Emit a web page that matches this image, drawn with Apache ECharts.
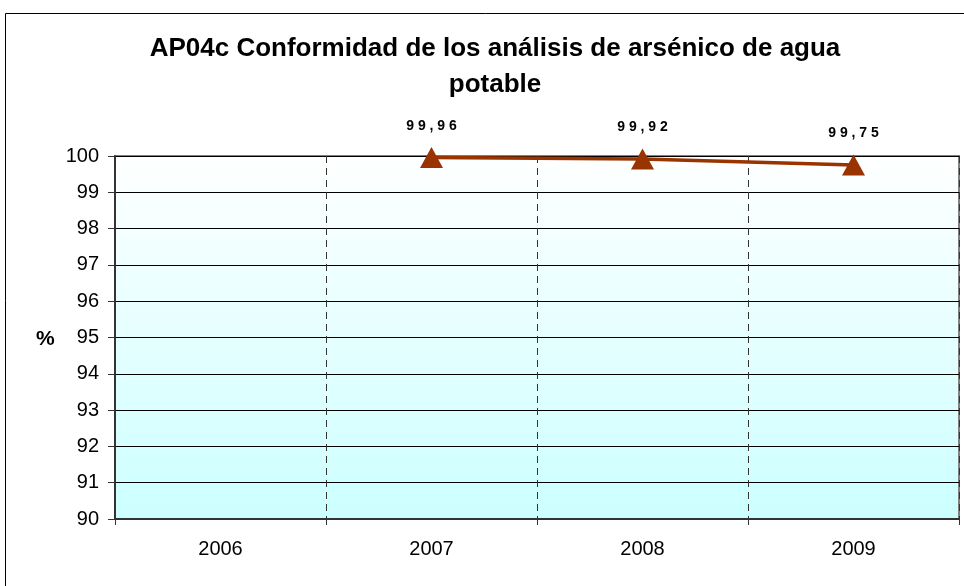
<!DOCTYPE html>
<html>
<head>
<meta charset="utf-8">
<script src="https://cdn.jsdelivr.net/npm/echarts@6/dist/echarts.min.js"></script>
<style>
  html, body { margin: 0; padding: 0; background: #fff; }
  #chart { width: 964px; height: 586px; }
</style>
</head>
<body>
<div id="chart"></div>
<script>
var years = ['2006', '2007', '2008', '2009']
var conformidad = [null, 99.96, 99.92, 99.75]
var yTicks = [90, 91, 92, 93, 94, 95, 96, 97, 98, 99, 100]

var mychart = echarts.init(document.getElementById('chart'))

var option = {
  animation: false,
  title: {
    text: 'AP04c Conformidad de los análisis de arsénico de agua\npotable',
    left: 490,
    top: 26,
    textAlign: 'center',
    textStyle: {
      fontFamily: 'Liberation Sans, Arial',
      fontSize: 26,
      fontWeight: 'bold',
      color: '#000',
      lineHeight: 36
    }
  },
  graphic: [
    {
      type: 'rect',
      shape: { x: 5.5, y: 13.5, width: 1000, height: 600 },
      style: { fill: 'none', stroke: '#000', lineWidth: 1 },
      silent: true
    },
    {
      type: 'text',
      left: 36,
      top: 329,
      style: { text: '%', font: 'bold 21px "Liberation Sans", Arial', fill: '#000' }
    }
  ],
  grid: {
    left: 115,
    right: 5,
    top: 156,
    bottom: 67,
    show: true,
    borderColor: '#808080',
    borderWidth: 2,
    backgroundColor: new echarts.graphic.LinearGradient(0, 0, 0, 1, [
      { offset: 0, color: '#ffffff' },
      { offset: 1, color: '#ccffff' }
    ])
  },
  xAxis: {
    type: 'category',
    data: years,
    boundaryGap: true,
    axisLine: { show: true, lineStyle: { color: '#333', width: 2 } },
    axisTick: { show: true, length: 6, lineStyle: { color: '#333' } },
    axisLabel: { fontFamily: 'Liberation Sans, Arial', fontSize: 20, color: '#000', margin: 20 },
    splitLine: { show: true, lineStyle: { color: '#333', type: [7, 5], width: 1 } }
  },
  yAxis: {
    type: 'value',
    min: yTicks[0],
    max: yTicks[yTicks.length - 1],
    interval: 1,
    axisLine: { show: true, lineStyle: { color: '#333', width: 2 } },
    axisTick: { show: true, length: 7, inside: false, lineStyle: { color: '#333' } },
    axisLabel: { fontFamily: 'Liberation Sans, Arial', fontSize: 20, color: '#000', margin: 16 },
    splitLine: { show: true, lineStyle: { color: '#000', width: 1 } }
  },
  series: [
    {
      type: 'line',
      data: conformidad,
      connectNulls: false,
      symbol: 'triangle',
      symbolSize: [23, 21],
      itemStyle: { color: '#993300' },
      lineStyle: { color: '#993300', width: 3.5 },
      label: {
        show: true,
        position: 'top',
        distance: 14,
        fontFamily: 'Liberation Sans, Arial',
        fontSize: 14,
        fontWeight: 'bold',
        color: '#000',
        formatter: function (p) {
          return p.value.toFixed(2).replace('.', ',').split('').join(' ')
        }
      },
      z: 5
    }
  ]
}

option && mychart.setOption(option)
</script>
</body>
</html>
